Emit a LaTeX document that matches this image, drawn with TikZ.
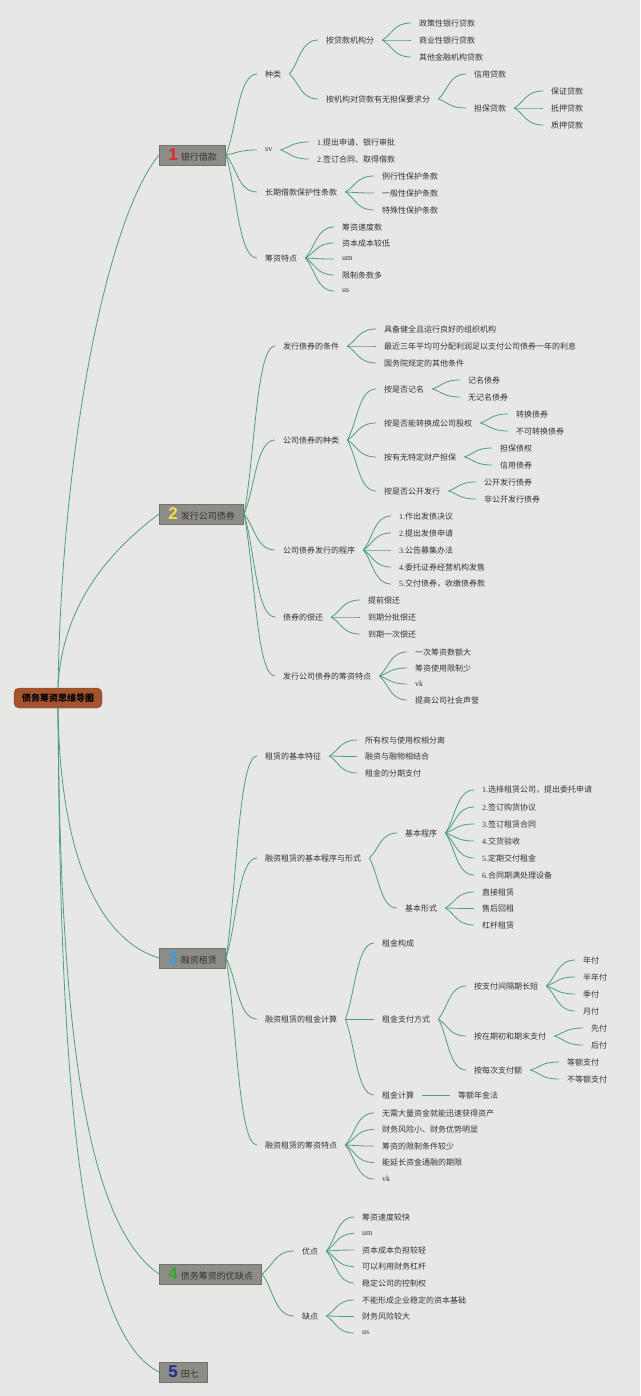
\documentclass[tikz,border=0pt]{standalone}
\usepackage{fontspec}
\setmainfont{Liberation Serif}
\newfontfamily\cjk{Noto Sans CJK SC}
\newfontfamily\numfont{Liberation Sans}
\usetikzlibrary{calc}
\definecolor{paper}{HTML}{E7E8E6}
\definecolor{twiggreen}{HTML}{4F9C7E}
\definecolor{ink}{HTML}{333333}
\definecolor{boxgrey}{HTML}{8E8C86}
\definecolor{boxedge}{HTML}{74726C}
\definecolor{rootfill}{HTML}{A4532F}
\definecolor{rootedge}{HTML}{8A4326}
\definecolor{numred}{HTML}{E1262F}
\definecolor{numyellow}{HTML}{F2DE4A}
\definecolor{numblue}{HTML}{2E9FE3}
\definecolor{numgreen}{HTML}{33A82A}
\definecolor{numnavy}{HTML}{1E2D8F}
\newcommand\lat[1]{{\rmfamily #1}}
\newcommand\badge[2]{{\numfont\bfseries\fontsize{17}{17}\selectfont\color{#1}#2}\hspace{3pt}}
\newcommand\twig[2]{\draw[link] let \p1=(#1.east), \p2=(#2.west) in
  (\p1) .. controls ({\x1+0.35*(\x2-\x1)},{\y1+0.35*(\y2-\y1)})
  and ({\x1+0.4*(\x2-\x1)},\y2) .. (\p2);}
\newcommand\leaves[5][17]{%
  \foreach \lbl [count=\i] in {#5} {
    \node[item] (#2-\i) at (#3,{#4+#1*(\i-1)}) {\lbl};
    \twig{#2}{#2-\i}
  }}

\begin{document}
\begin{tikzpicture}[
      x=1pt,
      y=-1pt,
      link/.style={draw=twiggreen, line width=0.8pt},
      item/.style={anchor=west, inner xsep=8pt, inner ysep=1pt,
        font=\cjk\fontsize{8}{9}\selectfont, text=ink},
      topic/.style={anchor=west, fill=boxgrey, draw=boxedge, line width=0.6pt,
        minimum height=20pt, inner xsep=9pt, inner ysep=0pt,
        font=\cjk\fontsize{9}{10}\selectfont, text=ink},
      root/.style={fill=rootfill, draw=rootedge, rounded corners=5pt,
        minimum height=20pt, inner xsep=8pt, inner ysep=0pt,
        font=\cjk\bfseries\fontsize{9}{10}\selectfont, text=black}
    ]
    \fill[paper] (0,0) rectangle (640,1396);

    \node[root] (root) at (58,698) {债务筹资思维导图};

    \node[topic] (b1) at (159,155) {\badge{numred}{1}银行借款};
    \node[topic] (b2) at (159,514) {\badge{numyellow}{2}发行公司债券};
    \node[topic] (b3) at (159,958) {\badge{numblue}{3}融资租赁};
    \node[topic] (b4) at (159,1274) {\badge{numgreen}{4}债务筹资的优缺点};
    \node[topic] (b5) at (159,1372) {\badge{numnavy}{5}田七};

    \draw[link] (root.north) .. controls +(4,-250) and +(-50,60) .. (b1.west);
    \draw[link] (root.north) .. controls +(4,-90) and +(-40,30) .. (b2.west);
    \draw[link] (root.south) .. controls +(2,150) and +(-59,-18) .. (b3.west);
    \draw[link] (root.south) .. controls +(2,290) and +(-79,-54) .. (b4.west);
    \draw[link] (root.south) .. controls +(2,340) and +(-84,-42) .. (b5.west);

    % 1
    \node[item] (b1a) at (257,74) {种类};
    \node[item] (b1a1) at (318,40) {按贷款机构分};
    \node[item] (b1a2) at (318,99) {按机构对贷款有无担保要求分};
    \node[item] (b1a2a) at (466,74) {信用贷款};
    \node[item] (b1a2b) at (466,108) {担保贷款};
    \node[item] (b1b) at (257,150) {\lat{sv}};
    \node[item] (b1c) at (257,192) {长期借款保护性条款};
    \node[item] (b1d) at (257,258) {筹资特点};
    \foreach \a/\b in {b1/b1a,b1/b1b,b1/b1c,b1/b1d,b1a/b1a1,b1a/b1a2,
        b1a2/b1a2a,b1a2/b1a2b}
      {\twig{\a}{\b}}
    \leaves{b1a1}{411}{23}{政策性银行贷款,商业性银行贷款,其他金融机构贷款}
    \leaves{b1a2b}{543}{91}{保证贷款,抵押贷款,质押贷款}
    \leaves{b1b}{309}{142}{\lat{1.}提出申请、银行审批,\lat{2.}签订合同、取得借款}
    \leaves{b1c}{374}{176}{例行性保护条款,一般性保护条款,特殊性保护条款}
    \leaves[16]{b1d}{334}{227}{筹资速度款,资本成本较低,\lat{um},限制条款多,\lat{us}}

    % 2
    \node[item] (b2a) at (275,346) {发行债券的条件};
    \node[item] (b2b) at (275,440) {公司债券的种类};
    \node[item] (b2b1) at (376,389) {按是否记名};
    \node[item] (b2b2) at (376,423) {按是否能转换成公司股权};
    \node[item] (b2b3) at (376,457) {按有无特定财产担保};
    \node[item] (b2b4) at (376,491) {按是否公开发行};
    \node[item] (b2c) at (275,550) {公司债券发行的程序};
    \node[item] (b2d) at (275,617) {债券的偿还};
    \node[item] (b2e) at (275,676) {发行公司债券的筹资特点};
    \foreach \a/\b in {b2/b2a,b2/b2b,b2/b2c,b2/b2d,b2/b2e,
        b2b/b2b1,b2b/b2b2,b2b/b2b3,b2b/b2b4}
      {\twig{\a}{\b}}
    \leaves{b2a}{376}{329}{具备健全且运行良好的组织机构,
      最近三年平均可分配利润足以支付公司债券一年的利息,国务院规定的其他条件}
    \leaves{b2b1}{460}{380}{记名债券,无记名债券}
    \leaves{b2b2}{508}{414}{转换债券,不可转换债券}
    \leaves{b2b3}{492}{448}{担保债权,信用债券}
    \leaves{b2b4}{476}{482}{公开发行债券,非公开发行债券}
    \leaves{b2c}{391}{516}{\lat{1.}作出发债决议,\lat{2.}提出发债申请,
      \lat{3.}公告募集办法,\lat{4.}委托证券经营机构发售,\lat{5.}交付债券，收缴债券款}
    \leaves{b2d}{360}{600}{提前偿还,到期分批偿还,到期一次偿还}
    \leaves[16]{b2e}{407}{652}{一次筹资数额大,筹资使用限制少,\lat{vk},提高公司社会声誉}

    % 3
    \node[item] (b3a) at (257,756) {租赁的基本特征};
    \node[item] (b3b) at (257,858) {融资租赁的基本程序与形式};
    \node[item] (b3b1) at (397,833) {基本程序};
    \node[item] (b3b2) at (397,908) {基本形式};
    \node[item] (b3c) at (257,1019) {融资租赁的租金计算};
    \node[item] (b3c1) at (374,943) {租金构成};
    \node[item] (b3c2) at (374,1019) {租金支付方式};
    \node[item] (b3c2a) at (466,986) {按支付间隔期长短};
    \node[item] (b3c2b) at (466,1036) {按在期初和期末支付};
    \node[item] (b3c2c) at (466,1070) {按每次支付额};
    \node[item] (b3c3) at (374,1095) {租金计算};
    \node[item] (b3c3a) at (450,1095) {等额年金法};
    \node[item] (b3d) at (257,1145) {融资租赁的筹资特点};
    \foreach \a/\b in {b3/b3a,b3/b3b,b3/b3c,b3/b3d,b3b/b3b1,b3b/b3b2,
        b3c/b3c1,b3c/b3c2,b3c/b3c3,b3c2/b3c2a,b3c2/b3c2b,b3c2/b3c2c,b3c3/b3c3a}
      {\twig{\a}{\b}}
    \leaves[16.5]{b3a}{357}{740}{所有权与使用权相分离,融资与融物相结合,租金的分期支付}
    \leaves{b3b1}{474}{790}{\lat{1.}选择租赁公司，提出委托申请,\lat{2.}签订购货协议,
      \lat{3.}签订租赁合同,\lat{4.}交货验收,\lat{5.}定期交付租金,\lat{6.}合同期满处理设备}
    \leaves[16.5]{b3b2}{474}{892}{直接租赁,售后回租,杠杆租赁}
    \leaves{b3c2a}{575}{960}{年付,半年付,季付,月付}
    \leaves{b3c2b}{583}{1028}{先付,后付}
    \leaves{b3c2c}{559}{1062}{等额支付,不等额支付}
    \leaves[16.5]{b3d}{374}{1113}{无需大量资金就能迅速获得资产,财务风险小、财务优势明显,
      筹资的限制条件较少,能延长资金通融的期限,\lat{vk}}

    % 4
    \node[item] (b4a) at (294,1251) {优点};
    \node[item] (b4b) at (294,1316) {缺点};
    \foreach \a/\b in {b4/b4a,b4/b4b}
      {\twig{\a}{\b}}
    \leaves[16.5]{b4a}{354}{1217}{筹资速度较快,\lat{um},资本成本负担较轻,
      可以利用财务杠杆,稳定公司的控制权}
    \leaves[16.5]{b4b}{354}{1300}{不能形成企业稳定的资本基础,财务风险较大,\lat{us}}
  \end{tikzpicture}
\end{document}
